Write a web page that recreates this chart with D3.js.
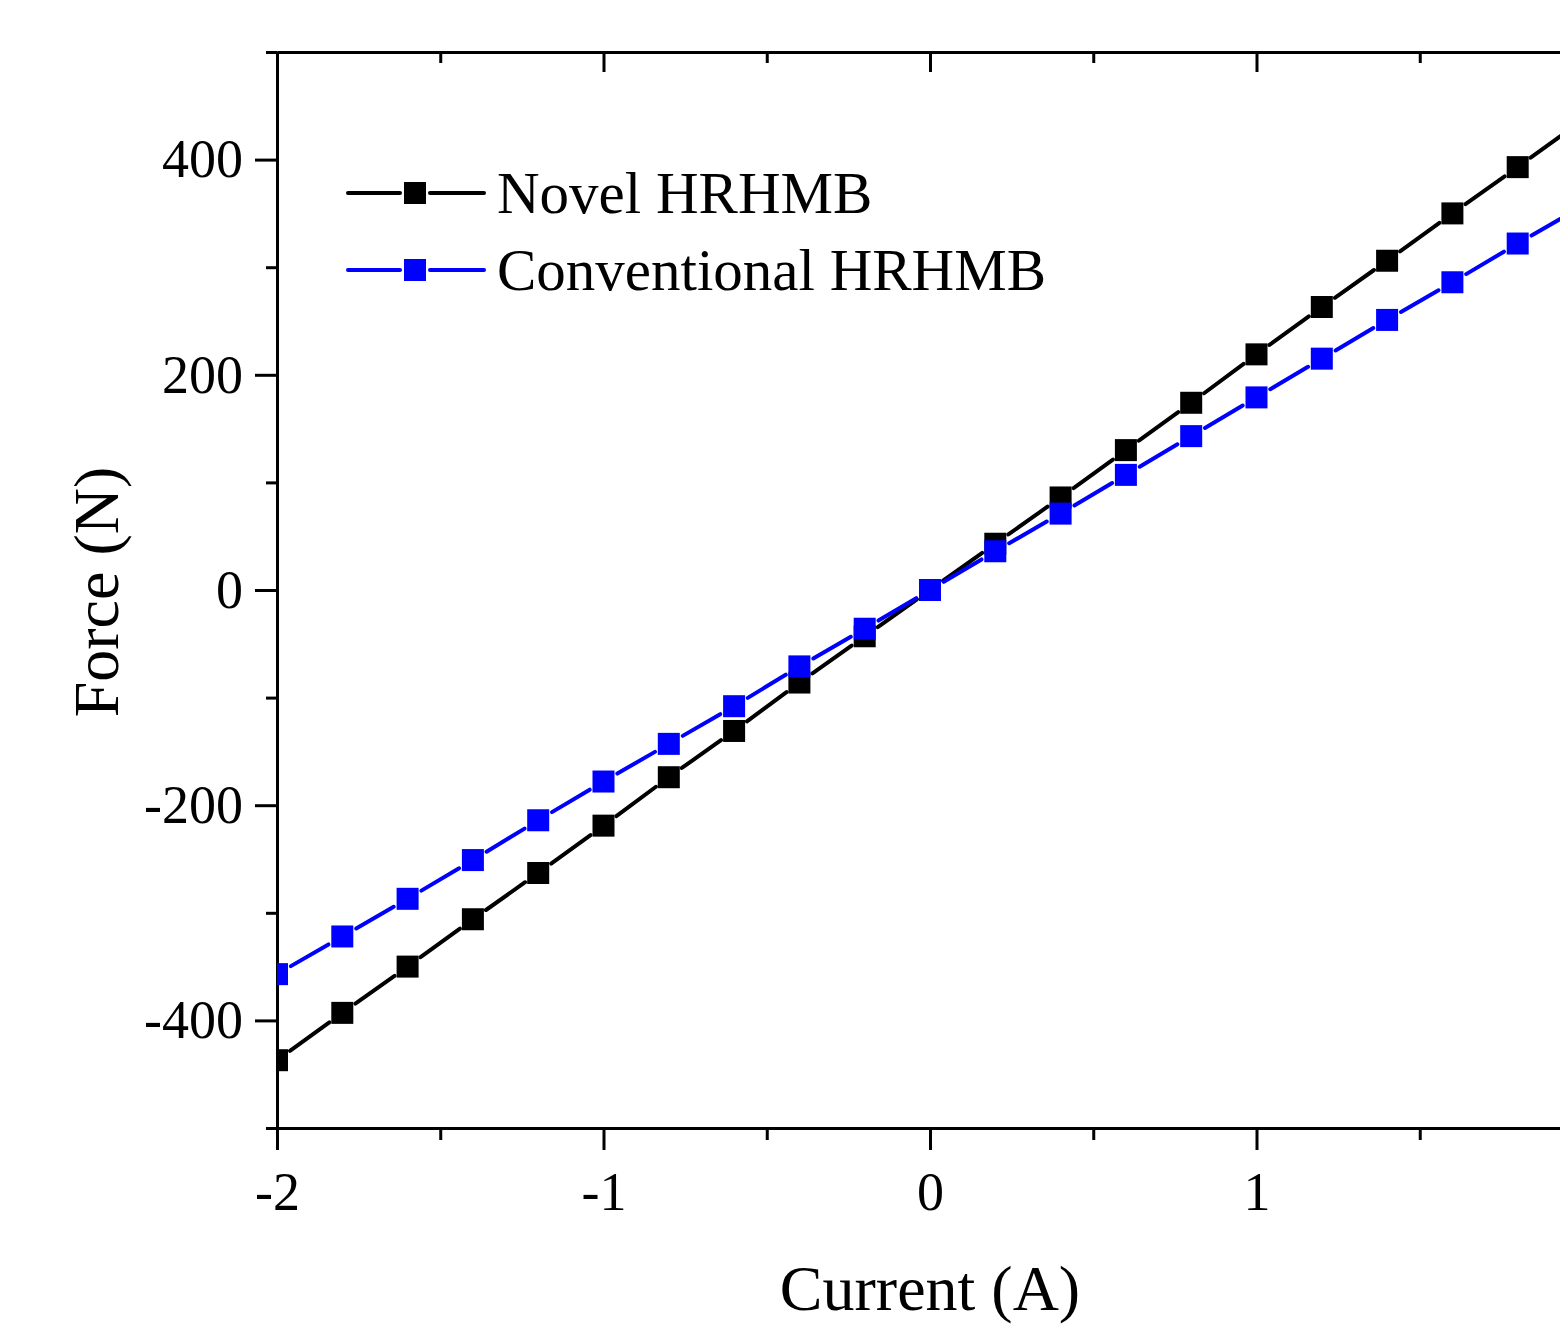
<!DOCTYPE html>
<html>
<head>
<meta charset="utf-8">
<script src="https://cdn.jsdelivr.net/npm/d3@7"></script>
<style>
  body { margin: 0; background: #fff; }
  svg { display: block; overflow: hidden; }
</style>
</head>
<body>
<svg id="chart"></svg>
<script>
// data
const current = [-2, -1.8, -1.6, -1.4, -1.2, -1, -0.8, -0.6, -0.4, -0.2, 0,
                 0.2, 0.4, 0.6, 0.8, 1, 1.2, 1.4, 1.6, 1.8, 2];
const novelForce = [-437, -393, -350, -306, -263, -219, -174, -131, -86, -43, 0,
                    43, 86, 130, 174, 219, 263, 306, 350, 393, 437];
const convForce = [-357, -322, -287, -251, -214, -178, -143, -108, -71, -36, 0,
                   36, 71, 107, 143, 179, 215, 251, 286, 322, 357];
const seriesNames = ["Novel HRHMB", "Conventional HRHMB"];
const seriesColors = ["#000000", "#0000ff"];
const xMajor = [-2, -1, 0, 1];   // x = 2 falls just outside the cropped frame
const xMinor = [-1.5, -0.5, 0.5, 1.5];
const yMajor = [-400, -200, 0, 200, 400];
const yMinor = [-500, -300, -100, 100, 300, 500];

const width = 1560, height = 1330;
const plotLeft = 277, plotRight = 1583, plotTop = 52, plotBottom = 1128;
const font = "'Liberation Serif', 'Times New Roman', serif";
const markerSize = 22;

const svg = d3.select('#chart')
    .attr('width', width)
    .attr('height', height)
    .style('font-family', font);

const x = d3.scaleLinear().domain([-2, 2]).range([plotLeft, plotRight]);
const y = d3.scaleLinear().domain([-500, 500]).range([plotBottom, plotTop]);

svg.append('defs').append('clipPath').attr('id', 'plotclip')
  .append('rect')
    .attr('x', plotLeft).attr('y', plotTop)
    .attr('width', plotRight - plotLeft).attr('height', plotBottom - plotTop);

function styleAxis(g) {
  g.select('.domain').attr('stroke-width', 3).attr('stroke', '#000');
  g.selectAll('.tick line').attr('stroke-width', 3).attr('stroke', '#000');
  g.selectAll('.tick text').attr('fill', '#000').style('font-family', font);
}

// bottom axis
svg.append('g')
    .attr('transform', 'translate(0,' + plotBottom + ')')
    .call(d3.axisBottom(x).tickValues(xMinor).tickSize(12).tickSizeOuter(0).tickFormat(''))
    .call(styleAxis);
svg.append('g')
    .attr('transform', 'translate(0,' + plotBottom + ')')
    .call(d3.axisBottom(x).tickValues(xMajor).tickSize(22).tickSizeOuter(0)
          .tickPadding(22).tickFormat(d3.format('d')))
    .call(styleAxis)
    .selectAll('.tick text')
    .attr('font-size', 54)
    .text(d => d < 0 ? '-' + Math.abs(d) : d);

// top axis, ticks pointing inside
svg.append('g')
    .attr('transform', 'translate(0,' + plotTop + ')')
    .call(d3.axisTop(x).tickValues(xMinor).tickSize(-11).tickSizeOuter(0).tickFormat(''))
    .call(styleAxis);
svg.append('g')
    .attr('transform', 'translate(0,' + plotTop + ')')
    .call(d3.axisTop(x).tickValues(xMajor).tickSize(-20).tickSizeOuter(0).tickFormat(''))
    .call(styleAxis);

// left axis
svg.append('g')
    .attr('transform', 'translate(' + plotLeft + ',0)')
    .call(d3.axisLeft(y).tickValues(yMinor).tickSize(11).tickSizeOuter(0).tickFormat(''))
    .call(styleAxis);
svg.append('g')
    .attr('transform', 'translate(' + plotLeft + ',0)')
    .call(d3.axisLeft(y).tickValues(yMajor).tickSize(22).tickSizeOuter(0).tickPadding(12))
    .call(styleAxis)
    .selectAll('.tick text')
    .attr('font-size', 54)
    .text(d => d < 0 ? '-' + Math.abs(d) : d);

// axis titles
svg.append('text')
    .attr('x', 930)
    .attr('y', 1310)
    .attr('text-anchor', 'middle')
    .attr('font-size', 64)
    .text('Current (A)');
svg.append('text')
    .attr('transform', 'translate(118,592) rotate(-90)')
    .attr('text-anchor', 'middle')
    .attr('font-size', 64)
    .text('Force (N)');

// series: segments with small gaps around markers
const plot = svg.append('g').attr('clip-path', 'url(#plotclip)');
const gap = markerSize / 2 + 5;
const allSeries = [novelForce, convForce];

allSeries.forEach(function(vals, si) {
  const pts = current.map((c, i) => [x(c), y(vals[i])]);
  const segs = [];
  for (let i = 0; i < pts.length - 1; i++) {
    const dx = pts[i + 1][0] - pts[i][0], dy = pts[i + 1][1] - pts[i][1];
    const len = Math.sqrt(dx * dx + dy * dy);
    if (len <= 2 * gap) continue;
    const ux = dx / len, uy = dy / len;
    segs.push([pts[i][0] + ux * gap, pts[i][1] + uy * gap,
               pts[i + 1][0] - ux * gap, pts[i + 1][1] - uy * gap]);
  }
  const g = plot.append('g');
  g.selectAll('line')
      .data(segs)
      .enter()
      .append('line')
      .attr('x1', d => d[0]).attr('y1', d => d[1])
      .attr('x2', d => d[2]).attr('y2', d => d[3])
      .attr('stroke', seriesColors[si])
      .attr('stroke-width', 4)
      .attr('stroke-linecap', 'round');
  g.selectAll('rect')
      .data(pts)
      .enter()
      .append('rect')
      .attr('x', d => d[0] - markerSize / 2)
      .attr('y', d => d[1] - markerSize / 2)
      .attr('width', markerSize)
      .attr('height', markerSize)
      .attr('fill', seriesColors[si]);
});

// legend
const legendY = [193, 270];
seriesNames.forEach(function(name, i) {
  const lg = svg.append('g').attr('transform', 'translate(0,' + legendY[i] + ')');
  lg.append('line').attr('x1', 348).attr('x2', 400).attr('y1', 0).attr('y2', 0)
    .attr('stroke', seriesColors[i]).attr('stroke-width', 4).attr('stroke-linecap', 'round');
  lg.append('line').attr('x1', 430).attr('x2', 484).attr('y1', 0).attr('y2', 0)
    .attr('stroke', seriesColors[i]).attr('stroke-width', 4).attr('stroke-linecap', 'round');
  lg.append('rect').attr('x', 404).attr('y', -11).attr('width', markerSize).attr('height', markerSize)
    .attr('fill', seriesColors[i]);
  lg.append('text').attr('x', 497).attr('y', 20)
    .attr('font-size', 59)
    .attr('fill', '#000')
    .text(name);
});
</script>
</body>
</html>
